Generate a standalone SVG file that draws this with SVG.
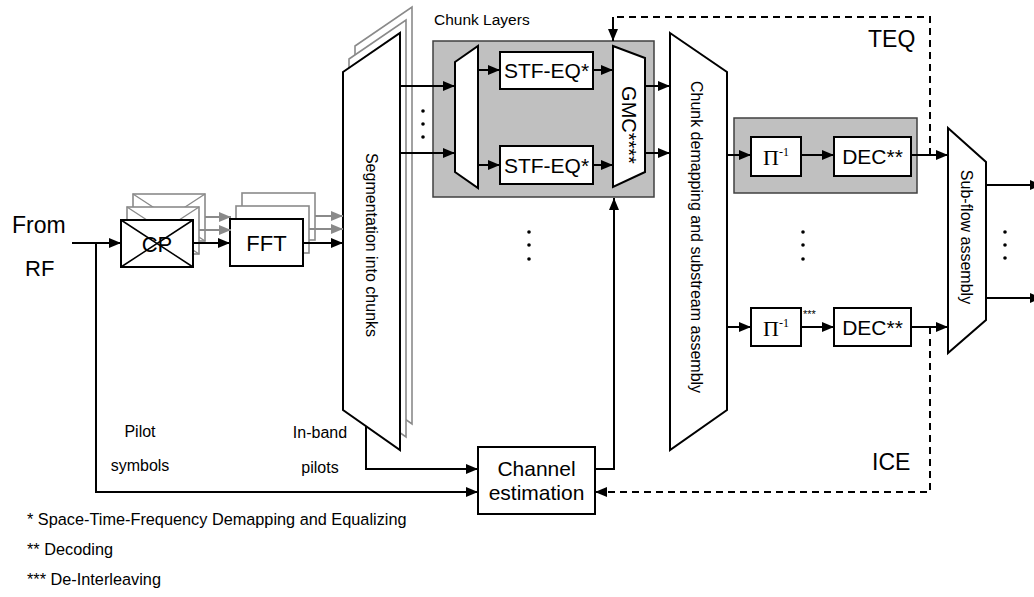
<svg xmlns="http://www.w3.org/2000/svg" width="1034" height="597" viewBox="0 0 1034 597">
<defs>
<style>
text{font-family:"Liberation Sans",Arial,sans-serif;fill:#000}
.blk{fill:#fff;stroke:#000;stroke-width:2}
.gly{fill:#fff;stroke:#8a8a8a;stroke-width:1.6}
.gx{stroke:#8a8a8a;stroke-width:1.4;fill:none}
.ln{fill:none;stroke:#000;stroke-width:2}
.gl{fill:none;stroke:#8a8a8a;stroke-width:2}
.ds{fill:none;stroke:#000;stroke-width:2;stroke-dasharray:7,5}
.grp{fill:#c0c0c0;stroke:#404040;stroke-width:1.5}
.sp{font-family:"Liberation Serif","Times New Roman",serif}
</style>
<marker id="ah" markerWidth="12" markerHeight="10" refX="12" refY="5" orient="auto" markerUnits="userSpaceOnUse"><path d="M0,0 L12,5 L0,10 z" fill="#000"/></marker>
<marker id="ag" markerWidth="12" markerHeight="10" refX="12" refY="5" orient="auto" markerUnits="userSpaceOnUse"><path d="M0,0 L12,5 L0,10 z" fill="#8a8a8a"/></marker>
</defs>
<rect width="1034" height="597" fill="#fff"/>

<g id="input-label">
<text x="12" y="233" font-size="23">From</text>
<text x="25" y="276" font-size="22">RF</text>
</g>

<g id="cp">
<rect class="gly" x="133" y="194" width="72" height="47"/>
<path class="gx" d="M133,194 L205,241 M205,194 L133,241"/>
<rect class="gly" x="127" y="207" width="72" height="47"/>
<path class="gx" d="M127,207 L199,254 M199,207 L127,254"/>
<rect class="blk" x="121" y="220" width="72" height="47"/>
<text x="157" y="252" font-size="22" text-anchor="middle">CP</text>
<path d="M121,220 L193,267 M193,220 L121,267" stroke="#000" stroke-width="1.5"/>
</g>

<g id="fft">
<rect class="gly" x="242" y="193" width="73" height="47"/>
<rect class="gly" x="236" y="206" width="73" height="47"/>
<rect class="blk" x="230" y="219" width="73" height="47"/>
<text x="266.5" y="251" font-size="22" text-anchor="middle">FFT</text>
</g>

<g id="segmentation">
<polygon class="gly" points="355,46 412,7 412,424 355,384"/>
<polygon class="gly" points="349,59 406,20 406,437 349,397"/>
<polygon class="blk" points="343,72 400,33 400,450 343,410"/>
<text transform="translate(372,245) rotate(90)" font-size="16" text-anchor="middle" dy="6">Segmentation into chunks</text>
</g>

<g id="chunk-layers">
<text x="434" y="25" font-size="15.5">Chunk Layers</text>
<rect class="grp" x="433" y="41" width="221" height="156"/>
<polygon class="blk" points="455,62 478,46 478,188 455,172"/>
<rect class="blk" x="500" y="52" width="93" height="37"/>
<text x="546.5" y="78" font-size="21" text-anchor="middle">STF-EQ*</text>
<rect class="blk" x="500" y="146" width="93" height="38"/>
<text x="546.5" y="173" font-size="21" text-anchor="middle">STF-EQ*</text>
<polygon class="blk" points="613,46 645,58 645,172 613,187"/>
<text transform="translate(629,125) rotate(90)" font-size="20" text-anchor="middle" dy="7">GMC****</text>
</g>

<g id="chunk-demapping">
<polygon class="blk" points="670,33 727,72 727,410 670,450"/>
<text transform="translate(697,237) rotate(90)" font-size="16" text-anchor="middle" dy="6">Chunk demapping and substream assembly</text>
</g>

<g id="decoding-layer">
<rect class="grp" x="734" y="118" width="183" height="75"/>
<rect class="blk" x="751" y="137" width="50" height="39"/>
<text class="sp" x="763" y="165" font-size="22">Π<tspan font-size="12" dy="-9">-1</tspan></text>
<rect class="blk" x="834" y="137" width="77" height="39"/>
<text x="872.5" y="164" font-size="21" text-anchor="middle">DEC**</text>
</g>

<g id="decoding-bottom">
<rect class="blk" x="751" y="308" width="50" height="38"/>
<text class="sp" x="763" y="336" font-size="22">Π<tspan font-size="12" dy="-9">-1</tspan></text>
<text x="803" y="318" font-size="11">***</text>
<rect class="blk" x="834" y="308" width="77" height="38"/>
<text x="872.5" y="335" font-size="21" text-anchor="middle">DEC**</text>
</g>

<g id="subflow">
<polygon class="blk" points="948,128 986,162 986,320 948,353"/>
<text transform="translate(967,237) rotate(90)" font-size="16" text-anchor="middle" dy="6">Sub-flow assembly</text>
</g>

<g id="channel-estimation">
<rect class="blk" x="478" y="447" width="117" height="67"/>
<text x="536.5" y="476" font-size="21" text-anchor="middle">Channel</text>
<text x="536.5" y="500" font-size="21" text-anchor="middle">estimation</text>
</g>

<g id="labels">
<text x="868" y="47" font-size="23">TEQ</text>
<text x="872" y="470" font-size="23">ICE</text>
<text x="140" y="437" font-size="16" text-anchor="middle">Pilot</text>
<text x="140" y="471" font-size="16" text-anchor="middle">symbols</text>
<text x="320" y="438" font-size="16" text-anchor="middle">In-band</text>
<text x="320" y="473" font-size="16" text-anchor="middle">pilots</text>
<text x="27" y="525" font-size="16.3">* Space-Time-Frequency Demapping and Equalizing</text>
<text x="27" y="555" font-size="16.3">** Decoding</text>
<text x="27" y="585" font-size="16.3">*** De-Interleaving</text>
</g>

<g id="dots" fill="#000">
<circle cx="423" cy="111" r="1.8"/><circle cx="423" cy="124" r="1.8"/><circle cx="423" cy="137" r="1.8"/>
<circle cx="529" cy="232" r="1.8"/><circle cx="529" cy="245" r="1.8"/><circle cx="529" cy="259" r="1.8"/>
<circle cx="803" cy="232" r="1.8"/><circle cx="803" cy="245" r="1.8"/><circle cx="803" cy="259" r="1.8"/>
<circle cx="1005" cy="232" r="1.8"/><circle cx="1005" cy="245" r="1.8"/><circle cx="1005" cy="258" r="1.8"/>
</g>

<g id="connectors">
<path class="ln" d="M72,243 H121" marker-end="url(#ah)"/>
<path class="ln" d="M96,243 V492 H478" marker-end="url(#ah)"/>
<path class="gl" d="M205,217 H231" marker-end="url(#ag)"/>
<path class="gl" d="M199,230 H231" marker-end="url(#ag)"/>
<path class="ln" d="M193,243 H230" marker-end="url(#ah)"/>
<path class="gl" d="M315,216 H343" marker-end="url(#ag)"/>
<path class="gl" d="M309,229 H343" marker-end="url(#ag)"/>
<path class="ln" d="M303,243 H343" marker-end="url(#ah)"/>
<path class="ln" d="M400,86 H455" marker-end="url(#ah)"/>
<path class="ln" d="M400,153 H455" marker-end="url(#ah)"/>
<path class="ln" d="M478,70 H500" marker-end="url(#ah)"/>
<path class="ln" d="M478,165 H500" marker-end="url(#ah)"/>
<path class="ln" d="M593,70 H613" marker-end="url(#ah)"/>
<path class="ln" d="M593,165 H613" marker-end="url(#ah)"/>
<path class="ln" d="M645,86 H670" marker-end="url(#ah)"/>
<path class="ln" d="M645,153 H670" marker-end="url(#ah)"/>
<path class="ln" d="M727,155 H751" marker-end="url(#ah)"/>
<path class="ln" d="M801,155 H834" marker-end="url(#ah)"/>
<path class="ln" d="M911,155 H948" marker-end="url(#ah)"/>
<path class="ln" d="M727,327 H751" marker-end="url(#ah)"/>
<path class="ln" d="M801,327 H834" marker-end="url(#ah)"/>
<path class="ln" d="M911,327 H948" marker-end="url(#ah)"/>
<path class="ln" d="M986,185 H1042" marker-end="url(#ah)"/>
<path class="ln" d="M986,298 H1042" marker-end="url(#ah)"/>
<path class="ln" d="M366,426 V469 H478" marker-end="url(#ah)"/>
<path class="ln" d="M595,469 H614 V198" marker-end="url(#ah)"/>
<path class="ds" d="M930,155 V17 H613"/>
<path class="ln" d="M613,17 V41" marker-end="url(#ah)"/>
<path class="ds" d="M930,327 V492 H595" marker-end="url(#ah)"/>
</g>
</svg>
